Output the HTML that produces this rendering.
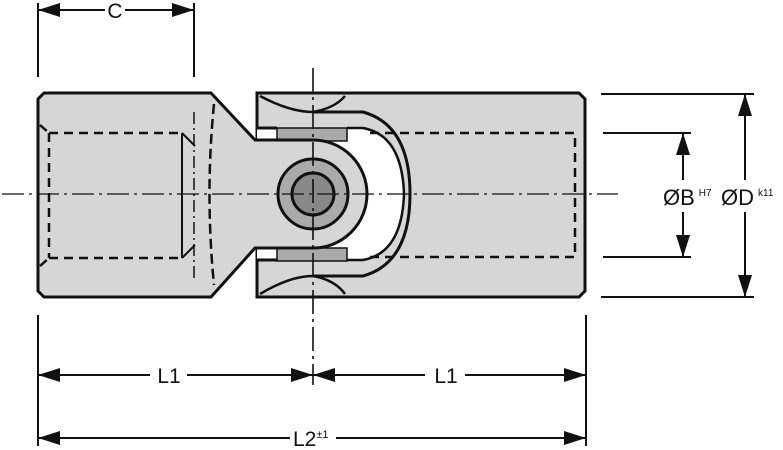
<!DOCTYPE html>
<html><head><meta charset="utf-8"><style>
html,body{margin:0;padding:0;background:#fff;}
svg{display:block;}
text{font-family:"Liberation Sans",sans-serif;fill:#111;}
</style></head><body>
<svg width="783" height="450" viewBox="0 0 783 450" xmlns="http://www.w3.org/2000/svg">
<defs>
<marker id="a" markerWidth="22" markerHeight="14" refX="22" refY="7" orient="auto-start-reverse" markerUnits="userSpaceOnUse">
<path d="M0,0 L22,7 L0,14 Z" fill="#111"/>
</marker>
</defs>
<path d="M257,93 H579 L585,99 V291 L579,297 H257 Z" fill="#d6d6d6" stroke="#111" stroke-width="3"/>
<path d="M257,128 H363 Q402,135 404,194 Q402,253 363,260 H257 Z" fill="#fff" stroke="none"/>
<path d="M257,128 H277 M257,260 H277" stroke="#111" stroke-width="3"/>
<path d="M313,112 H363 Q410,125 410,194 Q410,263 363,276 H313" fill="none" stroke="#111" stroke-width="3"/>
<path d="M347,128 H363 Q402,135 404,194 Q402,253 363,260 H347" fill="none" stroke="#111" stroke-width="2.5"/>
<path d="M260,96 Q290,112 313,112 M313,112 Q335,108 345,96" fill="none" stroke="#111" stroke-width="2.5"/>
<path d="M260,294 Q290,276 313,276 M313,276 Q335,280 345,294" fill="none" stroke="#111" stroke-width="2.5"/>
<rect x="277" y="128" width="70" height="13" fill="#aaa" stroke="#111" stroke-width="1.5"/>
<rect x="277" y="248" width="70" height="13" fill="#aaa" stroke="#111" stroke-width="1.5"/>
<path d="M370,133 H575 V257 H370" fill="none" stroke="#111" stroke-width="2.5" stroke-dasharray="9,6"/>
<path d="M44,93 H211 L255,140 H313 A54,54 0 0 1 313,248 H255 L211,297 H44 L38,291 V99 Z" fill="#d6d6d6" stroke="#111" stroke-width="3"/>
<path d="M49,133 H182 M49,258 H182 M49,133 V258 M40,125 L49,133 M40,266 L49,258" fill="none" stroke="#111" stroke-width="2.5" stroke-dasharray="9,6"/>
<path d="M182,133 V258 M182,133 L195,146 M182,258 L195,245" fill="none" stroke="#111" stroke-width="2"/>
<path d="M214,104 Q205,194 214,285" fill="none" stroke="#111" stroke-width="2.5" stroke-dasharray="10,5"/>
<path d="M194,112 V278" stroke="#111" stroke-width="1.5" stroke-dasharray="12,4,2,4"/>
<circle cx="313" cy="194" r="35" fill="#aaa" stroke="#111" stroke-width="3"/>
<circle cx="313" cy="194" r="21" fill="#888" stroke="#111" stroke-width="3"/>
<path d="M2,194 H618" stroke="#111" stroke-width="1.3" stroke-dasharray="22,5,3,5"/>
<path d="M313,68 V385" stroke="#111" stroke-width="1.6" stroke-dasharray="24,5,3,5"/>
<path d="M38,3 V77 M194,3 V77" stroke="#111" stroke-width="2"/>
<line x1="38" y1="10" x2="105" y2="10" stroke="#111" stroke-width="2" marker-start="url(#a)"/>
<line x1="125" y1="10" x2="194" y2="10" stroke="#111" stroke-width="2" marker-end="url(#a)"/>
<text x="115" y="18" font-size="21" text-anchor="middle">C</text>
<path d="M38,315 V446 M586,315 V446" stroke="#111" stroke-width="2"/>
<line x1="38" y1="375" x2="150" y2="375" stroke="#111" stroke-width="2" marker-start="url(#a)"/>
<line x1="187" y1="375" x2="313" y2="375" stroke="#111" stroke-width="2" marker-end="url(#a)"/>
<text x="169" y="383" font-size="21" text-anchor="middle">L1</text>
<line x1="313" y1="375" x2="425" y2="375" stroke="#111" stroke-width="2" marker-start="url(#a)"/>
<line x1="465" y1="375" x2="586" y2="375" stroke="#111" stroke-width="2" marker-end="url(#a)"/>
<text x="446" y="383" font-size="21" text-anchor="middle">L1</text>
<line x1="38" y1="438" x2="290" y2="438" stroke="#111" stroke-width="2" marker-start="url(#a)"/>
<line x1="336" y1="438" x2="586" y2="438" stroke="#111" stroke-width="2" marker-end="url(#a)"/>
<text x="293" y="446" font-size="21">L2<tspan font-size="11" dy="-8">±1</tspan></text>
<path d="M601,94 H754 M601,297 H754 M603,133 H691 M603,257 H691" stroke="#111" stroke-width="2"/>
<line x1="683" y1="133" x2="683" y2="180" stroke="#111" stroke-width="2" marker-start="url(#a)"/>
<line x1="683" y1="212" x2="683" y2="257" stroke="#111" stroke-width="2" marker-end="url(#a)"/>
<line x1="745" y1="94" x2="745" y2="180" stroke="#111" stroke-width="2" marker-start="url(#a)"/>
<line x1="745" y1="212" x2="745" y2="297" stroke="#111" stroke-width="2" marker-end="url(#a)"/>
<rect x="660" y="181" width="123" height="30" fill="#fff"/>
<text x="663" y="205" font-size="22">ØB<tspan font-size="10" dx="4" dy="-9">H7</tspan></text>
<text x="721" y="205" font-size="22">ØD<tspan font-size="10" dx="4" dy="-9">k11</tspan></text>
</svg>
</body></html>
